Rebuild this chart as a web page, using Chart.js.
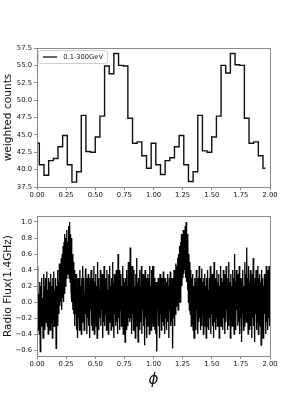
<!DOCTYPE html>
<html>
<head>
<meta charset="utf-8">
<script src="https://cdn.jsdelivr.net/npm/chart.js@4/dist/chart.umd.min.js"></script>
<style>
html,body{margin:0;padding:0;background:#fff;width:300px;height:400px;overflow:hidden}
canvas{position:absolute;left:0}
#c1{top:0}
#c2{top:200px}
</style>
</head>
<body>
<canvas id="c1" width="300" height="200"></canvas>
<canvas id="c2" width="300" height="200"></canvas>
<script>
// ---- Data (top panel: gamma-ray light curve, bin centres 0..1.96 step 0.04) ----
const histPhase = [0.00,0.04,0.08,0.12,0.16,0.20,0.24,0.28,0.32,0.36,0.40,0.44,0.48,0.52,0.56,0.60,0.64,0.68,0.72,0.76,0.80,0.84,0.88,0.92,0.96,
                   1.00,1.04,1.08,1.12,1.16,1.20,1.24,1.28,1.32,1.36,1.40,1.44,1.48,1.52,1.56,1.60,1.64,1.68,1.72,1.76,1.80,1.84,1.88,1.92,1.96];
const histCounts = [43.8,40.7,39.2,41.3,41.6,43.3,44.9,40.7,38.2,39.7,47.8,42.6,42.5,44.7,47.7,54.9,53.8,56.7,55.0,54.9,47.4,43.8,44.0,42.0,40.2,
                    43.8,40.7,39.3,41.3,41.7,43.3,44.9,40.7,38.3,39.7,47.8,42.7,42.5,44.7,47.7,55.0,53.9,56.7,55.1,55.0,47.4,43.8,44.0,42.0,40.2];
const histLabel = "0.1-300GeV";
const topYTicks = [37.5,40.0,42.5,45.0,47.5,50.0,52.5,55.0,57.5];
const xTicks = [0.00,0.25,0.50,0.75,1.00,1.25,1.50,1.75,2.00];

// ---- Data (bottom panel: radio flux, one folded period, phase step 0.004, shown twice) ----
const radioPeriod = [
 0.45,-0.2,0.3,-0.35,0.1,-0.4,0.25,-0.62,0.2,-0.1,
 0.3,-0.3,0.05,-0.45,0.35,-0.15,0.2,-0.35,0.3,0.0,
 -0.25,0.38,-0.3,0.15,-0.4,0.3,-0.2,0.25,-0.35,0.1,
 0.35,-0.25,0.2,-0.45,0.3,-0.1,0.38,-0.3,0.15,-0.25,
 0.3,-0.58,0.2,-0.2,0.4,-0.3,0.25,-0.15,0.48,-0.05,
 0.45,0.0,0.55,-0.1,0.6,0.05,0.7,0.0,0.75,0.1,
 0.85,0.2,0.8,0.3,0.9,0.35,0.75,0.4,0.95,0.3,
 1.0,0.25,0.85,0.15,0.8,0.0,0.6,-0.1,0.5,-0.15,
 0.4,-0.3,0.3,-0.15,0.35,-0.35,0.2,-0.45,0.3,-0.2,
 0.25,-0.35,0.4,-0.1,0.2,-0.4,0.3,-0.25,0.45,-0.2,
 0.3,-0.35,0.1,-0.3,0.42,-0.15,0.25,-0.4,0.3,-0.2,
 0.35,-0.3,0.2,-0.45,0.3,-0.1,0.4,-0.3,0.15,-0.35,
 0.3,-0.2,0.45,-0.4,0.25,-0.15,0.35,-0.3,0.2,-0.45,
 0.5,-0.25,0.3,-0.35,0.15,-0.2,0.4,-0.3,0.25,-0.1,
 0.35,-0.45,0.2,-0.25,0.45,-0.3,0.3,-0.15,0.25,-0.35,
 0.4,-0.2,0.15,-0.4,0.35,-0.25,0.45,-0.1,0.2,-0.35,
 0.3,-0.3,0.5,-0.2,0.25,-0.45,0.35,-0.15,0.2,-0.3,
 0.4,-0.25,0.3,-0.4,0.6,-0.2,0.25,-0.35,0.4,-0.1,
 0.35,-0.3,0.2,-0.25,0.45,-0.4,0.3,-0.2,0.25,-0.5,
 0.3,-0.15,0.4,-0.35,0.2,-0.3,0.5,-0.2,0.35,-0.25,
 0.68,-0.2,0.3,-0.4,0.45,-0.15,0.25,-0.35,0.4,-0.3,
 0.2,-0.45,0.35,-0.2,0.55,-0.3,0.25,-0.5,0.3,-0.15,
 0.4,-0.35,0.2,-0.25,0.45,-0.4,0.3,-0.1,0.35,-0.3,
 0.25,-0.54,0.4,-0.2,0.3,-0.45,0.2,-0.3,0.35,-0.15,
 0.3,-0.4,0.45,-0.25,0.2,-0.35,0.4,-0.2,0.45,-0.3
];
const radioStep = 0.004;
const botYTicks = [-0.6,-0.4,-0.2,0.0,0.2,0.4,0.6,0.8,1.0];

// build point tables from the read values (period shown twice, as in the folded plot)
const histPts = histPhase.map((p,i)=>({x:p,y:histCounts[i]}));
const radioPts = [];
for (let c=0;c<2;c++) radioPeriod.forEach((v,i)=>radioPts.push({x:c+i*radioStep, y:v}));

const FONT = "DejaVu Sans";
const frame = {
  id:'frame',
  afterDatasetsDraw(chart){
    const a=chart.chartArea, ctx=chart.ctx;
    ctx.save(); ctx.strokeStyle='#8a8a8a'; ctx.lineWidth=1;
    ctx.strokeRect(Math.round(a.left)+0.5,Math.round(a.top)+0.5,Math.round(a.right-a.left),Math.round(a.bottom-a.top));
    ctx.restore();
  }
};
const legendBox = {
  id:'legendBox',
  afterDraw(chart){
    if(!chart.options.plugins.legendBox || !chart.options.plugins.legendBox.show) return;
    const ctx=chart.ctx;
    ctx.save();
    const x=38.5,y=50.5,w=69,h=13,r=2;
    ctx.beginPath();
    ctx.moveTo(x+r,y);ctx.lineTo(x+w-r,y);ctx.quadraticCurveTo(x+w,y,x+w,y+r);
    ctx.lineTo(x+w,y+h-r);ctx.quadraticCurveTo(x+w,y+h,x+w-r,y+h);
    ctx.lineTo(x+r,y+h);ctx.quadraticCurveTo(x,y+h,x,y+h-r);
    ctx.lineTo(x,y+r);ctx.quadraticCurveTo(x,y,x+r,y);ctx.closePath();
    ctx.fillStyle='rgba(255,255,255,0.85)';ctx.fill();
    ctx.strokeStyle='#d0d0d0';ctx.lineWidth=1;ctx.stroke();
    ctx.beginPath();ctx.moveTo(43,57);ctx.lineTo(57,57);ctx.strokeStyle='#333';ctx.lineWidth=1.5;ctx.stroke();
    ctx.fillStyle='#111';ctx.font='6.7px "'+FONT+'"';ctx.textBaseline='middle';ctx.textAlign='left';
    ctx.fillText(chart.data.datasets[0].label,63.3,57.2);
    ctx.restore();
  }
};
function fixedTicks(arr){ return function(scale){ scale.ticks = arr.map(v=>({value:v})); }; }
const tickFont = {family:FONT,size:6.8};
const gridCfg = {display:true,drawOnChartArea:false,drawTicks:true,tickLength:3,color:'#8a8a8a'};

new Chart(document.getElementById('c1'),{
  type:'line',
  data:{datasets:[{label:histLabel,data:histPts,stepped:'middle',borderColor:'#111',borderWidth:1.4,pointRadius:0,fill:false}]},
  options:{
    responsive:false,animation:false,
    layout:{padding:{top:48,right:30,left:0,bottom:0}},
    plugins:{legend:{display:false},tooltip:{enabled:false},legendBox:{show:true}},
    scales:{
      x:{type:'linear',min:0,max:2,afterBuildTicks:fixedTicks(xTicks),afterFit(s){s.height=13;},
         grid:gridCfg,border:{display:false},
         ticks:{font:tickFont,color:'#111',padding:1,maxRotation:0,autoSkip:false,callback:v=>Number(v).toFixed(2)}},
      y:{type:'linear',min:37.5,max:57.5,afterBuildTicks:fixedTicks(topYTicks),afterFit(s){s.width=37;},
         grid:gridCfg,border:{display:false},
         title:{display:true,text:'weighted counts',font:{family:FONT,size:10.6},color:'#111',padding:{top:1.5,bottom:0}},
         ticks:{font:tickFont,color:'#111',padding:2,autoSkip:false,callback:v=>Number(v).toFixed(1)}}
    }
  },
  plugins:[frame,legendBox]
});

new Chart(document.getElementById('c2'),{
  type:'line',
  data:{datasets:[{label:'radio',data:radioPts,borderColor:'#000',borderWidth:1.3,pointRadius:0,fill:false,tension:0}]},
  options:{
    responsive:false,animation:false,
    layout:{padding:{top:16,right:30,left:0,bottom:0}},
    plugins:{legend:{display:false},tooltip:{enabled:false}},
    scales:{
      x:{type:'linear',min:0,max:2,afterBuildTicks:fixedTicks(xTicks),afterFit(s){s.height=44;},
         grid:gridCfg,border:{display:false},
         title:{display:true,text:'ϕ',font:{family:FONT,size:15,style:'italic'},color:'#111',padding:{top:0,bottom:11}},
         ticks:{font:tickFont,color:'#111',padding:1,maxRotation:0,autoSkip:false,callback:v=>Number(v).toFixed(2)}},
      y:{type:'linear',min:-0.675,max:1.075,afterBuildTicks:fixedTicks(botYTicks),afterFit(s){s.width=37;},
         grid:gridCfg,border:{display:false},
         title:{display:true,text:'Radio Flux(1.4GHz)',font:{family:FONT,size:10.6},color:'#111',padding:{top:1.5,bottom:0}},
         ticks:{font:tickFont,color:'#111',padding:2,autoSkip:false,callback:v=>{const s=Math.abs(v).toFixed(1);return (v<-1e-9?'\u2212':'')+s;}}}
    }
  },
  plugins:[frame]
});
</script>
</body>
</html>
